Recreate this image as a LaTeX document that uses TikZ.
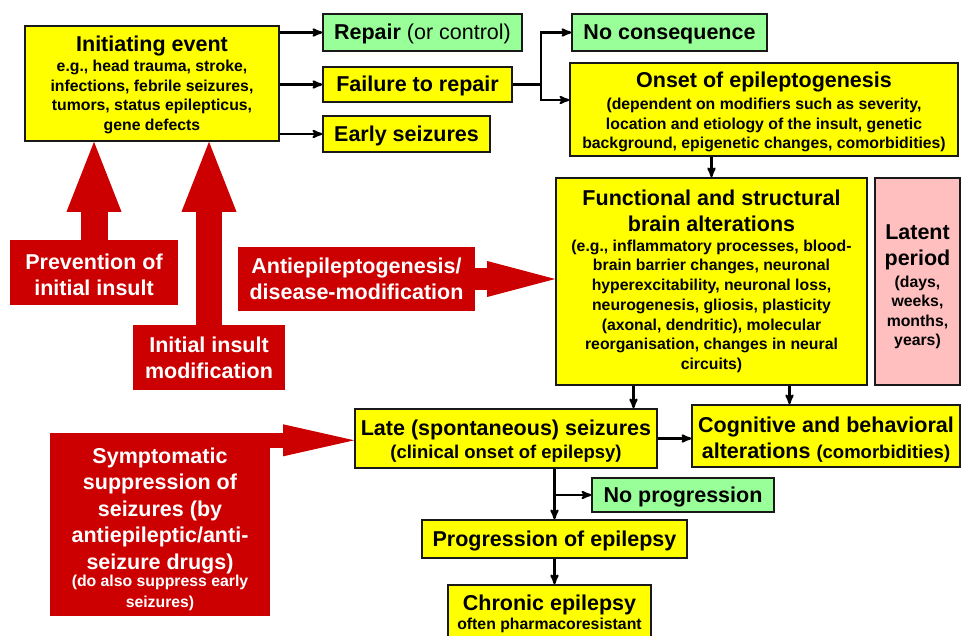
\documentclass[tikz,border=0pt]{standalone}
\usepackage{fontspec}
\setmainfont{Liberation Sans}
\usepackage{tikz}
\usetikzlibrary{arrows, arrows.meta, positioning}
\definecolor{boxyellow}{HTML}{FFFF00}
\definecolor{boxgreen}{HTML}{99FF99}
\definecolor{boxpink}{HTML}{FFBFBF}
\definecolor{insultred}{HTML}{CC0000}
\newcommand{\hdtext}[1]{{\fontsize{21.5}{25.5}\selectfont #1}}
\newcommand{\smtext}[1]{{\fontsize{15.8}{19.7}\selectfont #1}}
\newcommand{\mdtext}[1]{{\fontsize{18.5}{22}\selectfont #1}}
\newcommand{\tstrut}[1][16pt]{\rule{0pt}{#1}}
\tikzset{
  box/.style={draw=black!90, line width=1.6pt, align=center, inner sep=1pt,
    font=\bfseries\fontsize{15.8}{19.7}\selectfont},
  ybox/.style={box, fill=boxyellow},
  gbox/.style={box, fill=boxgreen},
  big/.style={font=\bfseries\fontsize{21.5}{25.5}\selectfont},
  oneline/.style={big, text height=19.5pt, text depth=4.6pt},
  redbox/.style={fill=insultred, text=white, align=center, inner sep=1pt,
    font=\bfseries\fontsize{21.5}{26}\selectfont},
  fat/.style n args={3}{draw=insultred, line width=#1,
    -{Triangle[length=#2, width=#3, line width=0pt]}},
  link/.style={->, line width=2.2pt},
  >=stealth'
}

\begin{document}
\begin{tikzpicture}[x=1pt, y=-1pt]
\useasboundingbox (0,0) rectangle (962,636);
% boxes of the chain
\node[ybox, minimum width=254pt, minimum height=115pt] (init) at (152,83.5)
  {\tstrut[18.4pt]\hdtext{Initiating event}\\e.g., head trauma, stroke,\\infections, febrile seizures,\\tumors, status epilepticus,\\gene defects};
\node[gbox, oneline, minimum width=199pt, minimum height=37pt] (repair) at (422.5,32.5) {Repair {\mdseries (or control)}};
\node[ybox, oneline, minimum width=189pt, minimum height=35pt] (fail) at (417.5,84.5) {Failure to repair};
\node[ybox, oneline, minimum width=167pt, minimum height=36pt] (early) at (406.5,134) {Early seizures};
\node[gbox, oneline, minimum width=195pt, minimum height=37pt] (nocons) at (669.5,32.5) {No consequence};
\node[ybox, minimum width=388pt, minimum height=93pt, font=\bfseries\fontsize{15.8}{19.5}\selectfont] (onset) at (764,109.5)
  {\tstrut[21.2pt]\hdtext{Onset of epileptogenesis}\\[2.5pt](dependent on modifiers such as severity,\\location and etiology of the insult, genetic\\background, epigenetic changes, comorbidities)};
\node[ybox, minimum width=311pt, minimum height=207pt] (func) at (711.5,281.5)
  {\hdtext{Functional and structural}\\[6pt]\hdtext{brain alterations}\\(e.g., inflammatory processes, blood-\\brain barrier changes, neuronal\\hyperexcitability, neuronal loss,\\neurogenesis, gliosis, plasticity\\(axonal, dendritic), molecular\\reorganisation, changes in neural\\circuits)};
\node[box, fill=boxpink, minimum width=85pt, minimum height=207pt, font=\bfseries\fontsize{15.8}{19.2}\selectfont] (latent) at (917.5,281.5)
  {\tstrut[25.4pt]\hdtext{Latent}\\[6.8pt]\hdtext{period}\\[2.8pt](days,\\weeks,\\months,\\years)};
\node[ybox, big, minimum width=302pt, minimum height=59pt] (late) at (506,438.5)
  {\tstrut[21.7pt]Late (spontaneous) seizures\\[-2.5pt]\mdtext{(clinical onset of epilepsy)}};
\node[ybox, big, minimum width=268pt, minimum height=62pt] (cog) at (826,436)
  {\tstrut[21.9pt]Cognitive and behavioral\\[0.5pt]alterations \mdtext{(comorbidities)}};
\node[gbox, oneline, minimum width=182pt, minimum height=34pt] (nopro) at (683,495) {No progression};
\node[ybox, oneline, minimum width=265pt, minimum height=38pt] (prog) at (554.5,539) {Progression of epilepsy};
\node[ybox, big, minimum width=203pt, minimum height=54pt] (chron) at (549.5,612)
  {\tstrut[19.9pt]Chronic epilepsy\\[-6.5pt]\smtext{often pharmacoresistant}};
% treatments
\node[redbox, minimum width=168pt, minimum height=65pt] (prev) at (94,272.5) {\tstrut[19.7pt]Prevention of\\initial insult};
\node[redbox, minimum width=152pt, minimum height=65pt] (mod) at (209,357.5) {Initial insult\\modification};
\node[redbox, minimum width=237pt, minimum height=64pt] (anti) at (356.5,279) {Antiepileptogenesis/\\disease-modification};
\node[redbox, minimum width=220pt, minimum height=183pt, font=\bfseries\fontsize{21.5}{26.5}\selectfont] (symp) at (160,524.5)
  {\tstrut[24.3pt]Symptomatic\\suppression of\\seizures (by\\antiepileptic/anti-\\seizure drugs)\\[-9.5pt]\smtext{(do also suppress early}\\[-5.5pt]\smtext{seizures)}};
% connectors
\draw[link] (init.east |- repair) -- (repair);
\draw[link] (init.east |- fail) -- (fail);
\draw[link] (init.east |- early) -- (early);
\coordinate[right=28pt of fail.east] (fork);
\draw[line width=2.2pt] (fail) -- (fork);
\draw[link] (fork) |- (nocons);
\draw[link] (fork) |- ([yshift=9.5pt]onset.west);
\draw[link] (func.north |- onset.south) -- (func.north);
\coordinate[left=78pt of func.south] (f1);
\coordinate[right=78pt of func.south] (f2);
\draw[link] (f1) -- (f1 |- late.north);
\draw[link] (f2) -- (f2 |- cog.north);
\draw[link] (late.east) -- (late.east -| cog.west);
\draw[link] (prog.north |- late.south) -- (prog.north);
\draw[link] (prog.north |- nopro.west) -- (nopro.west);
\draw[link] (prog.south) -- (prog.south |- chron.north);
% treatment arrows
\draw[fat={27pt}{70pt}{55pt}] (prev.north) -- (prev.north |- init.south);
\draw[fat={26pt}{70pt}{55pt}] (mod.north) -- (mod.north |- init.south);
\draw[fat={22pt}{68pt}{36pt}] (anti.east) -- (anti.east -| func.west);
\coordinate[below=7.5pt of symp.north east] (s1);
\draw[fat={15pt}{71pt}{32pt}] (s1) -- (s1 -| late.west);
\end{tikzpicture}
\end{document}
